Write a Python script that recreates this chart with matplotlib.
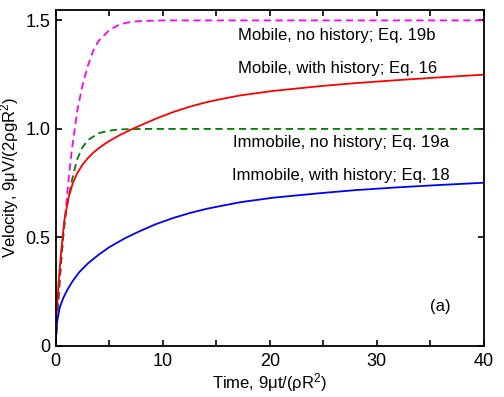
import matplotlib
matplotlib.use("Agg")
import matplotlib.pyplot as plt

plt.rcParams['font.family'] = ['Liberation Sans', 'DejaVu Sans']
plt.rcParams['mathtext.fontset'] = 'custom'
plt.rcParams['mathtext.rm'] = 'Liberation Sans'
plt.rcParams['mathtext.it'] = 'Liberation Sans:italic'

# Mobile, no history (Eq. 19b)
t_mob_nh = [0, 0.25, 0.5, 0.75, 1.0, 1.25, 1.5, 1.75, 2.0, 2.5, 3.0, 3.5, 4.0, 5.0, 6.0, 7.0, 8.0, 10.0, 40.0]
v_mob_nh = [0, 0.2, 0.38, 0.53, 0.66, 0.79, 0.9, 0.99, 1.08, 1.2, 1.29, 1.36, 1.405, 1.455, 1.482, 1.493,
            1.497, 1.5, 1.5]

# Immobile, no history (Eq. 19a)
t_imm_nh = [0, 0.25, 0.5, 0.75, 1.0, 1.5, 2.0, 2.5, 3.0, 4.0, 5.0, 6.0, 8.0, 40.0]
v_imm_nh = [0, 0.22, 0.39, 0.53, 0.63, 0.76, 0.86, 0.915, 0.948, 0.98, 0.992, 0.998, 1.0, 1.0]

# Mobile, with history (Eq. 16)
t_mob_h = [0, 0.1, 0.25, 0.5, 0.8, 1.2, 1.6, 2.0, 2.5, 3.0, 3.5, 4.0, 4.5, 5.0, 6.0, 7.0, 8.0, 9.5,
           11, 12.5, 14, 15.7, 17.2, 20.3, 24.7, 28, 32, 36, 40]
v_mob_h = [0, 0.15, 0.28, 0.43, 0.575, 0.685, 0.75, 0.795, 0.835, 0.865, 0.89, 0.91, 0.928, 0.944,
           0.972, 0.996, 1.018, 1.05, 1.078, 1.102, 1.122, 1.14, 1.154, 1.175, 1.197, 1.211, 1.225,
           1.238, 1.25]

# Immobile, with history (Eq. 18)
t_imm_h = [0, 0.05, 0.15, 0.4, 0.7, 1.1, 1.6, 2.2, 3, 4, 5, 6.5, 7.9, 9.4, 11, 12.5, 14.1, 17.2,
           20.3, 24.7, 28, 32, 36, 40]
v_imm_h = [0, 0.07, 0.12, 0.18, 0.22, 0.26, 0.30, 0.34, 0.38, 0.42, 0.455, 0.497, 0.53, 0.562, 0.59,
           0.612, 0.632, 0.662, 0.683, 0.704, 0.718, 0.731, 0.742, 0.752]

labels = ["Mobile, no history; Eq. 19b", "Mobile, with history; Eq. 16",
          "Immobile, no history; Eq. 19a", "Immobile, with history; Eq. 18"]
xticks = [0, 5, 10, 15, 20, 25, 30, 35, 40]
xticklabels = ["0", "", "10", "", "20", "", "30", "", "40"]
yticks = [0, 0.5, 1.0, 1.5]
yticklabels = ["0", "0.5", "1.0", "1.5"]

fig = plt.figure(figsize=(5.04, 3.97), dpi=100)
ax = fig.add_axes([0.1105, 0.1285, 0.8495, 0.8475])

lw = 1.3
ax.plot(t_mob_nh, v_mob_nh, color='#ff00ff', lw=lw, dashes=(4, 2.5))
ax.plot(t_imm_nh, v_imm_nh, color='#008000', lw=lw, dashes=(4, 2.5))
ax.plot(t_mob_h, v_mob_h, color='#ff0000', lw=lw)
ax.plot(t_imm_h, v_imm_h, color='#0000ff', lw=lw)

ax.set_xlim(0, 40)
ax.set_ylim(0, 1.55)
ax.set_xticks(xticks)
ax.set_xticklabels(xticklabels)
ax.set_yticks(yticks)
ax.set_yticklabels(yticklabels)
ax.tick_params(direction='in', length=4, width=1.2, top=True, right=True, labelsize=13)
ax.tick_params(axis='x', pad=5)
ax.tick_params(axis='y', pad=4)
for s in ax.spines.values():
    s.set_linewidth(1.3)

fs = 12
ax.text(0.4256, 0.922, labels[0], transform=ax.transAxes, fontsize=fs, va='center', ha='left')
ax.text(0.4256, 0.825, labels[1], transform=ax.transAxes, fontsize=fs, va='center', ha='left')
ax.text(0.414, 0.604, labels[2], transform=ax.transAxes, fontsize=fs, va='center', ha='left')
ax.text(0.412, 0.508, labels[3], transform=ax.transAxes, fontsize=fs, va='center', ha='left')
ax.text(0.898, 0.116, "(a)", transform=ax.transAxes, fontsize=fs, va='center', ha='center')

ax.set_xlabel("Time, 9μt/(ρR$^{2}$)", fontsize=12, labelpad=1)
ax.set_ylabel("Velocity, 9μV/(2ρgR$^{2}$)", fontsize=12)
ax.yaxis.set_label_coords(-0.08, 0.5)

fig.savefig("out.png", dpi=100)
